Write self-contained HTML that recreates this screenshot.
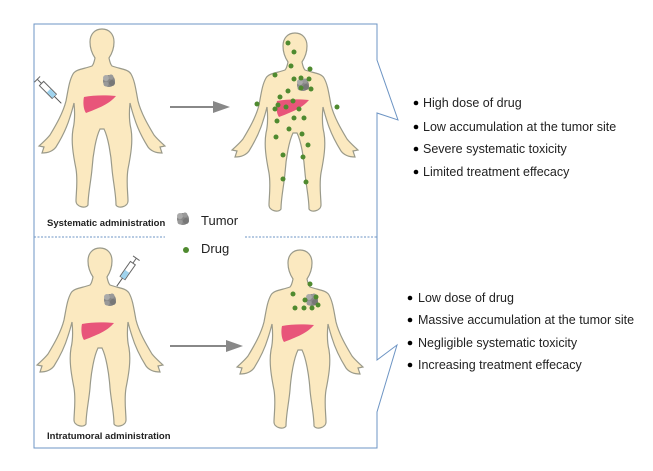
<!DOCTYPE html>
<html><head><meta charset="utf-8"><style>
html,body{margin:0;padding:0;background:#fff;width:653px;height:471px;overflow:hidden}
svg{display:block}
</style></head><body>
<svg width="653" height="471" viewBox="0 0 653 471" xmlns="http://www.w3.org/2000/svg" font-family="Liberation Sans, sans-serif">
<defs>
<path id="body" d="M0,0 C7,0 12,5 12,13 C12,20 9,26 7,29 C8,34 9,36 10,37 C18,40 26,40 29,45 C33,52 34,62 36,72 C39,84 46,96 52,106 C56,111 60,114 63,117 L58,118 L60,124 C54,124 49,122 46,118 C41,110 35,98 32,88 C30,82 29,78 28,74 C27,84 27,92 29,100 C31,112 29,125 26,140 C24,152 26,165 26,172 C26,178 16,180 14,176 C14,165 11,152 10,140 C9,125 6,108 2,100 L0,100 L-2,100 C-6,108 -9,125 -10,140 C-11,152 -14,165 -14,176 C-16,180 -26,178 -26,172 C-26,165 -24,152 -26,140 C-29,125 -31,112 -29,100 C-27,92 -27,84 -28,74 C-29,78 -30,82 -32,88 C-35,98 -41,110 -46,118 C-49,122 -54,124 -60,124 L-58,118 L-63,117 C-60,114 -56,111 -52,106 C-46,96 -39,84 -36,72 C-34,62 -33,52 -29,45 C-26,40 -18,40 -10,37 C-9,36 -8,34 -7,29 C-9,26 -12,20 -12,13 C-12,5 -7,0 0,0 Z" fill="#fbe9c0" stroke="#9a9a8a" stroke-width="1.2"/>
<path id="liver" d="M-18,68 C-8,66 4,66 14,67 C8,74 0,78 -16,84 C-19,80 -19,72 -18,68 Z" fill="#e8557a"/>
<g id="tumor"><circle cx="0" cy="0" r="6" fill="#888"/><circle cx="-3" cy="-3" r="3" fill="#aaa"/><circle cx="3" cy="2" r="3" fill="#777"/><circle cx="2" cy="-4" r="2.5" fill="#999"/><circle cx="-3" cy="3" r="2.5" fill="#999"/></g>
<circle id="d" r="2.5" fill="#4f8a2f"/>
</defs>
<path d="M34,24 L377,24 L377,60 L398,120 L377,113 L377,360 L397,345 L377,412 L377,448 L34,448 Z" fill="none" stroke="#6e95c4" stroke-width="1"/>
<line x1="34" y1="237" x2="165" y2="237" stroke="#6e95c4" stroke-dasharray="2,1.5"/>
<line x1="245" y1="237" x2="377" y2="237" stroke="#6e95c4" stroke-dasharray="2,1.5"/>
<g transform="translate(102,29)"><use href="#body"/><use href="#liver"/><use href="#tumor" transform="translate(7,52)"/></g>
<g transform="translate(50,92) rotate(-45)"><rect x="-3" y="-12" width="6" height="18" fill="#fff" stroke="#666"/><rect x="-2.5" y="-2" width="5" height="8" fill="#9fd3ee"/><line x1="0" y1="6" x2="0" y2="16" stroke="#555"/><line x1="0" y1="-12" x2="0" y2="-18" stroke="#666"/><line x1="-4" y1="-18" x2="4" y2="-18" stroke="#666"/></g>
<line x1="170" y1="107" x2="215" y2="107" stroke="#888" stroke-width="2"/>
<path d="M213,101 L230,107 L213,113 Z" fill="#888"/>
<g transform="translate(295,33)"><use href="#body"/><use href="#liver"/><use href="#tumor" transform="translate(8,52)"/>
<use href="#d" x="-7" y="10"/><use href="#d" x="-1" y="19"/><use href="#d" x="-4" y="33"/><use href="#d" x="15" y="36"/><use href="#d" x="-20" y="42"/><use href="#d" x="-1" y="46"/><use href="#d" x="6" y="45"/><use href="#d" x="14" y="46"/><use href="#d" x="-7" y="58"/><use href="#d" x="6" y="55"/><use href="#d" x="16" y="56"/><use href="#d" x="-15" y="64"/><use href="#d" x="-17" y="72"/><use href="#d" x="-9" y="74"/><use href="#d" x="-2" y="68"/><use href="#d" x="-20" y="76"/><use href="#d" x="-1" y="85"/><use href="#d" x="-6" y="96"/><use href="#d" x="-18" y="88"/><use href="#d" x="9" y="85"/><use href="#d" x="4" y="76"/><use href="#d" x="-38" y="71"/><use href="#d" x="42" y="74"/><use href="#d" x="-19" y="104"/><use href="#d" x="7" y="101"/><use href="#d" x="13" y="112"/><use href="#d" x="-12" y="122"/><use href="#d" x="8" y="124"/><use href="#d" x="-12" y="146"/><use href="#d" x="11" y="149"/></g>
<text x="47" y="226" font-size="9.5" font-weight="bold" fill="#222">Systematic administration</text>
<use href="#tumor" transform="translate(183,219)"/>
<text x="201" y="225" font-size="13" fill="#222">Tumor</text>
<circle cx="186" cy="250" r="3" fill="#4f8a2f"/>
<text x="201" y="253" font-size="13" fill="#222">Drug</text>
<text x="47" y="439" font-size="9.5" font-weight="bold" fill="#222">Intratumoral administration</text>
<g transform="translate(100,248)"><use href="#body"/><use href="#liver" transform="translate(0,8)"/><use href="#tumor" transform="translate(10,52)"/></g>
<g transform="translate(126,273) rotate(35)"><rect x="-3" y="-12" width="6" height="18" fill="#fff" stroke="#666"/><rect x="-2.5" y="-2" width="5" height="8" fill="#9fd3ee"/><line x1="0" y1="6" x2="0" y2="16" stroke="#555"/><line x1="0" y1="-12" x2="0" y2="-18" stroke="#666"/><line x1="-4" y1="-18" x2="4" y2="-18" stroke="#666"/></g>
<line x1="170" y1="346" x2="228" y2="346" stroke="#888" stroke-width="2"/>
<path d="M226,340 L243,346 L226,352 Z" fill="#888"/>
<g transform="translate(300,250)"><use href="#body"/><use href="#liver" transform="translate(0,8)"/><use href="#tumor" transform="translate(12,50)"/>
<use href="#d" x="10" y="34"/><use href="#d" x="-7" y="44"/><use href="#d" x="5" y="50"/><use href="#d" x="4" y="58"/><use href="#d" x="-5" y="58"/><use href="#d" x="12" y="58"/><use href="#d" x="18" y="55"/><use href="#d" x="16" y="47"/></g>
<g font-size="12.5" fill="#222">
<circle cx="416" cy="103" r="2.3" fill="#000"/><text x="423" y="107">High dose of drug</text>
<circle cx="416" cy="127" r="2.3" fill="#000"/><text x="423" y="131">Low accumulation at the tumor site</text>
<circle cx="416" cy="149" r="2.3" fill="#000"/><text x="423" y="153">Severe systematic toxicity</text>
<circle cx="416" cy="172" r="2.3" fill="#000"/><text x="423" y="176">Limited treatment effecacy</text>
<circle cx="410" cy="298" r="2.3" fill="#000"/><text x="418" y="302">Low dose of drug</text>
<circle cx="410" cy="320" r="2.3" fill="#000"/><text x="418" y="324">Massive accumulation at the tumor site</text>
<circle cx="410" cy="343" r="2.3" fill="#000"/><text x="418" y="347">Negligible systematic toxicity</text>
<circle cx="410" cy="365" r="2.3" fill="#000"/><text x="418" y="369">Increasing treatment effecacy</text>
</g>
</svg>
</body></html>
